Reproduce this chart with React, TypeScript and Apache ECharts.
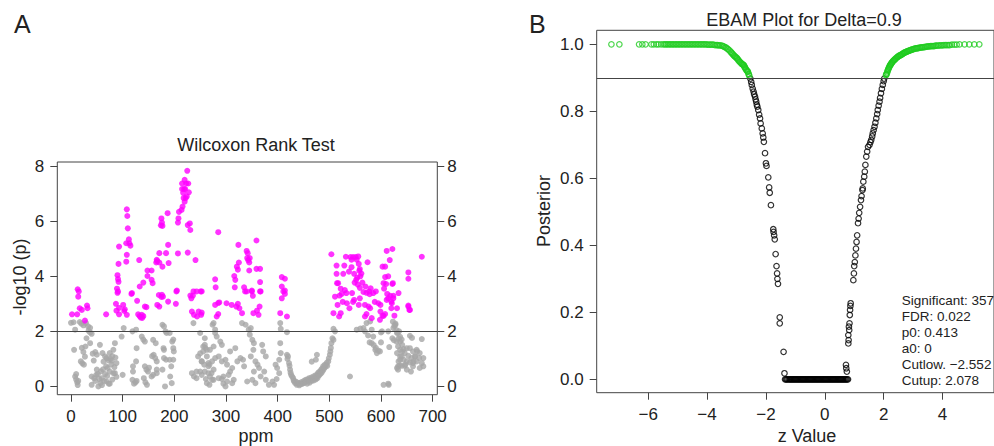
import React, { useEffect, useRef } from "react";
import * as echarts from "echarts";

// Panel A: Wilcoxon rank test, [ppm, -log10(p)]
const wilcoxSig: number[][] = [
  [2,2.62],[12,2.62],[13,3.53],[14,3.26],[15,3.45],[17,2.84],[21,2.78],[27,2.39],[31,2.94],[32,2.84],
  [68,2.62],[87,3.0],[88,2.75],[89,3.55],[90,4.04],[90,3.4],[91,3.9],[91,3.45],[92,4.45],[92,3.8],[93,5.08],[93,2.62],[93,2.85],
  [101,2.96],[103,2.74],[104,2.8],[107,5.2],[107,4.53],[108,6.43],[108,4.78],[108,2.6],[109,6.19],[110,5.74],[112,5.34],[113,5.2],
  [115,5.11],[117,3.36],[118,3.39],[128,3.11],[130,2.62],[132,4.59],[133,3.63],[133,2.55],[135,2.5],[137,2.6],[138,2.49],[140,3.77],
  [140,2.55],[143,2.9],[146,2.88],[148,4.21],[148,4.01],
  [156,4.21],[156,3.87],[158,3.75],[165,4.5],[166,4.6],[167,4.55],[167,2.96],[170,3.32],[171,4.84],[171,4.5],[171,2.9],[174,5.85],
  [175,6.1],[175,3.25],[176,5.95],[176,3.33],[177,4.35],[177,5.83],[178,3.26],[184,4.84],[187,6.29],[188,5.14],[188,3.08],[189,4.48],
  [203,3.0],[204,3.45],[205,3.48],[207,4.83],[207,5.95],[208,6.1],[209,6.34],[214,6.41],[215,7.37],[215,7.17],[216,6.53],[217,7.03],
  [218,6.84],[219,7.17],[220,7.5],[220,6.71],[221,7.17],[222,6.84],[223,7.37],[224,6.9],[225,7.83],[226,5.86],[226,4.86],[227,7.37],
  [228,7.05],[230,5.92],[231,5.68],[231,3.3],[233,3.2],[234,2.72],[236,3.3],[237,3.45],[238,2.6],[241,4.59],[243,3.45],[244,2.54],
  [247,2.72],[251,3.45],[252,2.6],[253,3.45],[253,2.68],
  [279,3.89],[279,2.96],[280,3.6],[282,2.54],[285,5.6],[285,3.03],[285,2.63],[287,3.05],[301,3.02],[311,2.96],[316,4.01],[317,3.6],
  [318,3.87],[320,2.9],[321,4.35],[323,3.0],[324,5.14],[325,4.5],[323,4.24],[326,2.84],[331,2.66],[335,3.6],[337,3.45],[340,4.92],
  [340,3.45],[341,4.66],[342,4.84],[343,4.59],[345,4.5],[345,4.21],[346,4.66],[350,3.45],[350,3.48],[352,3.29],[353,2.66],[359,5.3],
  [359,4.27],[360,2.75],[363,2.6],[365,2.9],[366,4.27],[366,3.79],[366,3.45],[367,3.45],[405,2.66],[408,3.97],[408,3.63],[408,3.2],
  [411,3.45],[414,3.36],[414,3.91],[414,3.48],[418,2.54],
  [504,4.8],[508,2.66],[511,3.26],[514,4.39],[514,4.09],[515,3.75],[516,2.96],[517,3.75],[519,2.54],[520,3.3],[522,2.66],[522,3.55],
  [524,3.36],[526,3.07],[527,4.09],[529,4.39],[530,3.5],[532,4.71],[533,3.39],[534,3.02],[538,4.17],[539,2.84],[541,4.7],[543,4.33],
  [543,4.6],[544,3.39],[546,3.07],[546,4.7],[548,4.09],[548,3.14],[549,3.77],[551,4.7],[552,3.87],[553,4.6],[554,3.95],[555,3.7],
  [556,4.72],[557,4.45],[557,2.96],[558,4.2],[559,4.26],[559,3.58],[559,3.2],[560,4.0],[562,4.1],[564,3.77],[566,3.43],[569,2.96],
  [569,2.54],[570,3.63],[572,3.4],[572,2.63],[574,4.51],[576,2.9],[577,3.45],[578,3.35],[579,2.84],[580,3.56],[582,2.48],[585,3.39],
  [588,3.07],[590,3.45],[595,3.02],[598,2.42],[599,2.96],[599,2.72],[603,4.35],[603,2.57],[605,3.75],[605,2.56],[606,3.55],[608,3.97],
  [608,4.35],[608,2.63],[610,3.72],[611,4.92],[611,3.14],[612,3.36],[614,3.2],[614,4.0],[617,4.59],[618,3.29],[620,2.84],[620,3.08],
  [621,3.02],[622,4.99],[622,3.72],[623,3.75],[624,3.2],[624,3.29],[626,2.57],[631,2.84],[634,3.39],[653,4.14],[653,3.91],[653,2.94],
  [653,2.9],[655,2.78],[656,2.78],[679,4.71]
];

const wilcoxNs: number[][] = [
  [0,2.31],[5,2.33],[8,2.06],[17,2.34],[20,2.28],[24,2.22],[29,2.3],[33,2.18],[37,2.13],[34,2.02],[37,1.96],[40,1.91],[6,1.33],
  [21,1.4],[24,1.25],[27,1.08],[37,1.57],[19,0.91],[22,0.84],[25,0.79],[8,0.36],[10,0.25],[12,0.15],[14,0.2],[42,1.19],[44,0.94],
  [50,0.61],[49,0.42],[40,0.36],[40,0.06],[53,0.0],[57,0.12],[55,0.27],[56,1.51],[61,1.21],[66,1.09],[69,1.03],[75,1.21],[82,1.33],
  [85,1.57],[79,0.94],[68,0.73],[71,0.67],[75,0.54],[82,0.48],[69,0.18],[75,0.1],[85,0.48],[100,0.42],[98,1.81],[102,2.12],
  [45,0.3],[47,0.2],[52,0.45],[58,0.55],[60,0.3],[62,0.62],[63,0.9],[64,0.2],[66,0.45],[70,0.38],[72,0.95],[73,0.1],[76,1.0],
  [78,0.8],[80,1.1],[80,0.25],[84,0.7],[86,1.05],[88,0.85],[88,0.35],[60,0.05],[47,1.25],[50,1.15],[30,1.75],[28,1.45],[13,0.05],[10,0.45],
  [119,2.0],[126,2.06],[127,1.39],[126,0.91],[120,0.73],[120,0.54],[119,0.24],[122,0.1],[125,0.15],[127,0.2],[137,1.81],[140,1.7],
  [143,1.63],[143,0.73],[146,0.61],[149,0.54],[151,0.68],[141,0.3],[144,0.15],[147,0.06],[156,0.36],[159,0.42],[159,1.69],[164,1.57],
  [157,1.1],[160,1.15],[163,1.03],[166,0.91],[166,0.61],[166,0.48],[177,2.24],[180,2.18],[183,2.0],[185,1.94],[179,1.39],[180,1.33],
  [177,0.61],[182,0.0],[180,1.03],[184,0.97],[191,1.94],[196,1.63],[198,1.7],[198,1.39],[199,1.27],[191,0.97],[198,0.97],[194,0.73],
  [192,0.36],[195,0.12],
  [237,2.3],[234,0.48],[238,0.36],[243,0.3],[246,1.09],[250,1.2],[253,0.91],[243,0.54],[250,0.54],[256,1.45],[260,1.4],[263,1.33],
  [266,0.73],[268,0.79],[272,0.48],[276,0.24],[268,0.06],[261,0.27],[259,1.75],[276,2.3],[279,2.06],[250,1.94],
  [274,2.24],[279,1.94],[282,1.81],[289,1.63],[292,1.51],[276,1.45],[269,1.33],[259,1.51],[256,1.27],[263,1.09],[253,0.91],[258,0.79],
  [266,0.85],[273,0.91],[279,1.03],[286,1.09],[292,0.91],[299,0.97],[302,0.79],[312,0.67],[308,0.54],[305,0.42],[295,0.36],[292,0.27],
  [302,0.18],[312,0.12],[315,0.24],[295,0.1],[299,0.0],[286,0.3],[269,0.36],[259,0.54],[253,0.42],[266,0.48],[276,0.61],[273,0.24],
  [263,0.12],[308,1.27],[318,1.39],[322,0.91],[328,1.03],[333,0.97],[335,0.73],[331,2.3],[338,2.24],[344,2.06],[348,2.12],[346,1.88],
  [351,1.69],[354,1.57],[353,1.33],[348,1.09],[357,0.91],[361,0.79],[364,0.67],[354,0.54],[367,0.36],[351,0.24],[357,0.12],[341,0.18],
  [370,1.51],[372,1.27],[377,1.09],[374,0.54],[377,0.24],[383,0.06],[390,0.18],[393,0.06],[398,0.27],[403,0.48],[399,0.67],[396,0.79],
  [403,0.97],[406,1.21],[405,1.57],[406,2.09],[418,1.97],[405,2.3],
  [418,1.15],[419,1.0],[420,1.09],[422,0.85],[423,0.75],[424,0.61],[425,0.5],[426,0.42],[428,0.36],[430,0.3],[431,0.22],[432,0.18],
  [434,0.12],[435,0.18],[437,0.06],[438,0.14],[440,0.1],[442,0.04],[443,0.12],[445,0.08],[446,0.16],[448,0.1],[450,0.12],[451,0.2],
  [453,0.15],[454,0.24],[456,0.18],[457,0.1],[458,0.26],[460,0.2],[461,0.3],[462,0.14],[463,0.24],[465,0.32],[466,0.2],[468,0.27],
  [469,0.36],[470,0.22],[472,0.3],[473,0.4],[474,0.26],[475,0.33],[476,0.42],[477,0.3],[478,0.48],[479,0.38],[480,0.52],[481,0.42],
  [482,0.54],[483,0.46],[484,0.6],[485,0.5],[486,0.65],[487,0.56],[488,0.73],[489,0.62],[490,0.68],[491,0.78],[492,0.7],[494,0.79],
  [495,0.86],[496,0.75],[498,0.91],[499,1.02],[501,1.15],[502,1.27],[503,1.4],[504,1.57],[506,1.75],[508,1.69],[511,2.0],[508,2.09],
  [474,0.97],[476,1.15],[466,0.9],
  [540,0.36],[553,2.06],[566,2.12],[569,2.0],[572,2.3],[579,2.36],[582,2.06],[585,1.81],[582,1.57],[589,1.33],[592,1.21],[598,1.27],
  [602,2.0],[615,0.06],[624,2.12],[628,2.24],[631,1.94],[634,1.75],[637,1.63],[641,1.51],[641,1.27],[637,1.09],[634,0.91],[644,0.97],
  [647,0.79],[650,0.61],[658,0.54],[663,0.91],[666,1.09],[670,1.27],[631,1.21],[631,0.67],[636,0.76],[560,2.1],[575,1.85],[578,1.6],
  [586,1.5],[590,1.4],[595,1.3],
  [623,2.35],[626,2.2],[630,2.05],[632,1.95],[635,2.0],[628,2.28],[637,1.8],[640,1.7],[630,1.63],[625,1.68],[622,1.75],[656,1.84],
  [660,1.76],[679,1.72],[614,2.0],[600,1.96],[600,1.6],[616,1.43],[633,1.45],[637,1.33],[644,1.36],[650,1.39],[656,1.39],[662,1.27],
  [669,1.33],[675,1.21],[646,1.21],[640,1.09],[653,1.11],[659,1.03],[666,1.09],[674,1.03],[637,0.97],[650,0.91],[656,0.87],[662,0.85],
  [669,0.91],[679,0.85],[633,0.73],[640,0.75],[646,0.75],[662,0.73],[675,0.67],[682,0.73],[633,0.61],[682,1.03],[614,0.1],[605,0.06]
];

// Panel B: EBAM, [z value, posterior]
const ebamSig: number[][] = [
  [-7.25,1.0],[-6.98,1.0],[-6.31,1.0],[-6.2,1.0],[-6.09,1.0],[-5.89,1.0],[-5.81,1.0],[-5.72,1.0],[-5.65,1.0],[-5.56,1.0],[-5.48,1.0],
  [-5.43,1.0],[-5.38,1.0],[-5.33,1.0],[-5.28,1.0],[-5.23,1.0],[-5.18,1.0],[-5.13,1.0],[-5.08,1.0],[-5.03,1.0],[-4.98,1.0],[-4.93,1.0],
  [-4.88,1.0],[-4.83,1.0],[-4.78,1.0],[-4.73,1.0],[-4.68,1.0],[-4.63,1.0],[-4.58,1.0],[-4.53,1.0],[-4.48,1.0],[-4.43,1.0],[-4.38,1.0],
  [-4.33,1.0],[-4.28,1.0],[-4.23,1.0],[-4.18,1.0],[-4.13,1.0],[-4.08,1.0],[-4.03,1.0],[-3.98,0.999],[-3.93,0.999],[-3.88,0.999],
  [-3.83,0.999],[-3.78,0.999],[-3.73,0.998],[-3.68,0.998],[-3.64,0.998],[-3.6,0.997],[-3.55,0.997],[-3.5,0.996],[-3.46,0.995],
  [-3.42,0.993],[-3.38,0.991],[-3.35,0.99],[-3.31,0.987],[-3.28,0.985],[-3.24,0.982],[-3.2,0.978],[-3.17,0.975],[-3.14,0.972],
  [-3.11,0.969],[-3.08,0.966],[-3.05,0.964],[-3.03,0.962],[-3.0,0.96],[-2.98,0.958],[-2.95,0.955],[-2.93,0.952],[-2.9,0.949],
  [-2.88,0.947],[-2.85,0.945],[-2.83,0.943],[-2.81,0.941],[-2.79,0.94],[-2.77,0.939],[-2.75,0.938],[-2.73,0.934],[-2.72,0.932],
  [-2.7,0.929],[-2.68,0.926],[-2.66,0.923],[-2.64,0.921],[-2.62,0.919],[-2.61,0.918],[-2.59,0.912],[-2.58,0.91],[-2.56,0.905],
  [2.08,0.908],[2.09,0.91],[2.1,0.912],[2.12,0.916],[2.13,0.92],[2.15,0.924],[2.16,0.927],[2.18,0.93],[2.19,0.933],[2.21,0.936],
  [2.22,0.938],[2.24,0.94],[2.25,0.942],[2.27,0.944],[2.28,0.946],[2.3,0.948],[2.32,0.95],[2.34,0.952],[2.36,0.953],[2.38,0.955],
  [2.4,0.957],[2.43,0.959],[2.45,0.961],[2.48,0.963],[2.5,0.964],[2.53,0.966],[2.55,0.967],[2.58,0.968],[2.6,0.969],[2.63,0.971],
  [2.65,0.972],[2.68,0.974],[2.7,0.975],[2.73,0.976],[2.75,0.977],[2.78,0.978],[2.8,0.979],[2.83,0.98],[2.86,0.981],[2.89,0.982],
  [2.92,0.983],[2.95,0.984],[2.98,0.985],[3.02,0.986],[3.05,0.987],[3.09,0.988],[3.12,0.988],[3.15,0.989],[3.18,0.989],[3.22,0.99],
  [3.25,0.99],[3.29,0.991],[3.32,0.991],[3.36,0.992],[3.4,0.992],[3.44,0.993],[3.48,0.993],[3.52,0.994],[3.56,0.994],[3.6,0.995],
  [3.64,0.995],[3.68,0.995],[3.72,0.995],[3.76,0.996],[3.8,0.996],[3.85,0.996],[3.9,0.997],[3.95,0.997],[4.0,0.997],[4.05,0.998],
  [4.1,0.998],[4.15,0.998],[4.2,0.998],[4.25,0.998],[4.32,0.999],[4.4,0.999],[4.48,0.999],[4.58,1.0],[4.75,1.0],[4.91,1.0],
  [5.08,1.0],[5.25,1.0]
];

const ebamNs: number[][] = [
  [-2.53,0.898],[-2.5,0.888],[-2.48,0.879],[-2.45,0.868],[-2.42,0.859],[-2.4,0.851],[-2.37,0.844],[-2.35,0.836],[-2.33,0.829],
  [-2.31,0.82],[-2.29,0.814],[-2.26,0.804],[-2.23,0.79],[-2.2,0.779],[-2.18,0.764],[-2.14,0.749],[-2.11,0.734],[-2.09,0.722],
  [-2.07,0.709],[-2.03,0.675],[-2.0,0.645],[-1.98,0.637],[-1.92,0.603],[-1.89,0.573],[-1.87,0.557],[-1.83,0.52],[-1.75,0.448],
  [-1.74,0.44],[-1.72,0.43],[-1.7,0.418],[-1.67,0.374],[-1.64,0.338],[-1.62,0.316],[-1.61,0.3],[-1.59,0.285],[-1.53,0.185],
  [-1.53,0.167],[-1.4,0.082],[-1.37,0.018],
  [0.72,0.043],[0.73,0.033],[0.75,0.023],[0.8,0.132],[0.81,0.117],[0.8,0.107],[0.82,0.157],[0.83,0.147],[0.85,0.192],[0.86,0.207],
  [0.88,0.227],[0.87,0.219],[0.84,0.167],[0.97,0.296],[0.99,0.316],[1.0,0.338],[1.02,0.35],[1.04,0.37],[1.06,0.39],[1.08,0.41],
  [1.1,0.43],[1.13,0.466],[1.15,0.48],[1.17,0.497],[1.2,0.515],[1.23,0.535],[1.25,0.547],[1.28,0.565],[1.29,0.57],[1.31,0.59],
  [1.34,0.605],[1.36,0.62],[1.38,0.64],[1.41,0.665],[1.44,0.68],[1.47,0.694],[1.52,0.7],[1.55,0.708],[1.58,0.715],[1.61,0.725],
  [1.63,0.734],[1.66,0.744],[1.69,0.754],[1.72,0.766],[1.75,0.779],[1.78,0.792],[1.8,0.804],[1.83,0.817],[1.86,0.829],[1.88,0.84],
  [1.91,0.854],[1.94,0.867],[1.97,0.879],[2.0,0.89],[2.02,0.898]
];

const ebamZeroZ: number[] = [
  -1.35,-1.32,-1.29,-1.26,-1.22,-1.19,-1.16,-1.13,-1.1,-1.07,-1.04,-1.01,-0.98,-0.95,-0.92,-0.89,-0.86,-0.83,-0.8,-0.77,-0.74,-0.71,
  -0.68,-0.65,-0.62,-0.59,-0.56,-0.53,-0.5,-0.47,-0.44,-0.41,-0.38,-0.35,-0.32,-0.29,-0.26,-0.23,-0.2,-0.17,-0.14,-0.11,-0.08,-0.05,
  -0.02,0.01,0.04,0.07,0.1,0.13,0.16,0.19,0.22,0.25,0.28,0.31,0.34,0.37,0.4,0.43,0.46,0.49,0.52,0.55,0.58,0.61,0.64,0.67,0.7,0.73,
  0.76,0.79
];

const ppmTicks = [0, 100, 200, 300, 400, 500, 600, 700];
const logpTicks = [0, 2, 4, 6, 8];
const zTicks = [-6, -4, -2, 0, 2, 4];
const postTicks = [0, 0.2, 0.4, 0.6, 0.8, 1.0];
const ebamStats = ["Significant: 357", "FDR: 0.022", "p0: 0.413", "a0: 0", "Cutlow. \u22122.552", "Cutup: 2.078"];

const FONT = "'Liberation Sans', Arial, Helvetica, sans-serif";
const AX = "#444";
const TXT = "#222";

export default function App() {
  const ref = useRef<HTMLDivElement>(null);
  useEffect(() => {
    if (!ref.current) return;
    const chart = echarts.init(ref.current, null, { renderer: "svg" });
    const minus = (v: number) => (v < 0 ? "\u2212" + Math.abs(v) : String(v));
    const axisCommon = (ticks: number[], margin: number, fmt?: (v: number) => string) => ({
      type: "value" as const,
      axisLine: { show: false, onZero: false },
      splitLine: { show: false },
      axisTick: { show: true, length: 7, customValues: ticks, lineStyle: { color: AX, width: 1 } },
      axisLabel: {
        customValues: ticks,
        margin,
        fontSize: 17,
        color: TXT,
        fontFamily: FONT,
        formatter: fmt || ((v: number) => String(v)),
      },
    });
    const statTexts = ebamStats.map((t, i) => ({
      type: "text",
      x: 901.7,
      y: 300.5 + i * 16,
      style: { text: t, font: `13.5px ${FONT}`, fill: TXT, align: "left", verticalAlign: "middle" },
    }));
    chart.setOption({
      animation: false,
      backgroundColor: "#fff",
      grid: [
        { left: 57.3, top: 162, width: 380, height: 232.7, show: true, borderColor: AX, borderWidth: 1, backgroundColor: "transparent" },
        { left: 596.7, top: 30.3, width: 405, height: 362.4, show: true, borderColor: AX, borderWidth: 1, backgroundColor: "transparent" },
      ],
      xAxis: [
        { gridIndex: 0, min: -26.5, max: 709, position: "bottom", ...axisCommon(ppmTicks, 13) },
        { gridIndex: 1, min: -7.75, max: 5.75, position: "bottom", ...axisCommon(zTicks, 13, minus) },
      ],
      yAxis: [
        { gridIndex: 0, min: -0.3, max: 8.15, position: "left", ...axisCommon(logpTicks, 13) },
        { gridIndex: 0, min: -0.3, max: 8.15, position: "right", ...axisCommon(logpTicks, 10) },
        { gridIndex: 1, min: -0.04, max: 1.042, position: "left", ...axisCommon(postTicks, 13, (v: number) => v.toFixed(1)) },
      ],
      series: [
        {
          type: "scatter", xAxisIndex: 0, yAxisIndex: 0, data: wilcoxNs, symbolSize: 6,
          itemStyle: { color: "#a6a6a6" },
        },
        {
          type: "scatter", xAxisIndex: 0, yAxisIndex: 0, data: wilcoxSig, symbolSize: 6,
          itemStyle: { color: "#ff00ff" },
          markLine: {
            silent: true, symbol: "none", label: { show: false },
            lineStyle: { color: AX, type: "solid", width: 1 },
            data: [{ yAxis: 2 }],
          },
        },
        {
          type: "scatter", xAxisIndex: 1, yAxisIndex: 2, symbolSize: 5.5,
          data: [...ebamNs, ...ebamZeroZ.map((z) => [z, 0])],
          itemStyle: { color: "rgba(0,0,0,0)", borderColor: "#000", borderWidth: 1.2 },
        },
        {
          type: "scatter", xAxisIndex: 1, yAxisIndex: 2, symbolSize: 5.5, data: ebamSig,
          itemStyle: { color: "rgba(0,0,0,0)", borderColor: "#1fcc1f", borderWidth: 1.2 },
          markLine: {
            silent: true, symbol: "none", label: { show: false },
            lineStyle: { color: AX, type: "solid", width: 1 },
            data: [{ yAxis: 0.9 }],
          },
        },
      ],
      graphic: [
        { type: "text", x: 14, y: 24, style: { text: "A", font: `25px ${FONT}`, fill: TXT, align: "left", verticalAlign: "middle" } },
        { type: "text", x: 529, y: 24, style: { text: "B", font: `25px ${FONT}`, fill: TXT, align: "left", verticalAlign: "middle" } },
        { type: "text", x: 256, y: 145, style: { text: "Wilcoxon Rank Test", font: `18px ${FONT}`, fill: TXT, align: "center", verticalAlign: "middle" } },
        { type: "text", x: 804, y: 20, style: { text: "EBAM Plot for Delta=0.9", font: `18px ${FONT}`, fill: TXT, align: "center", verticalAlign: "middle" } },
        { type: "text", x: 256, y: 436, style: { text: "ppm", font: `18px ${FONT}`, fill: TXT, align: "center", verticalAlign: "middle" } },
        { type: "text", x: 807, y: 436, style: { text: "z Value", font: `18px ${FONT}`, fill: TXT, align: "center", verticalAlign: "middle" } },
        { type: "text", x: 20, y: 277, rotation: Math.PI / 2, style: { text: "-log10 (p)", font: `18px ${FONT}`, fill: TXT, align: "center", verticalAlign: "middle" } },
        { type: "text", x: 544, y: 211, rotation: Math.PI / 2, style: { text: "Posterior", font: `18px ${FONT}`, fill: TXT, align: "center", verticalAlign: "middle" } },
        ...statTexts,
      ],
    });
    return () => chart.dispose();
  }, []);
  return (
    <div style={{ position: "fixed", left: 0, top: 0, width: 994, height: 446, background: "#fff" }}>
      <div ref={ref} style={{ width: 994, height: 446 }} />
    </div>
  );
}
